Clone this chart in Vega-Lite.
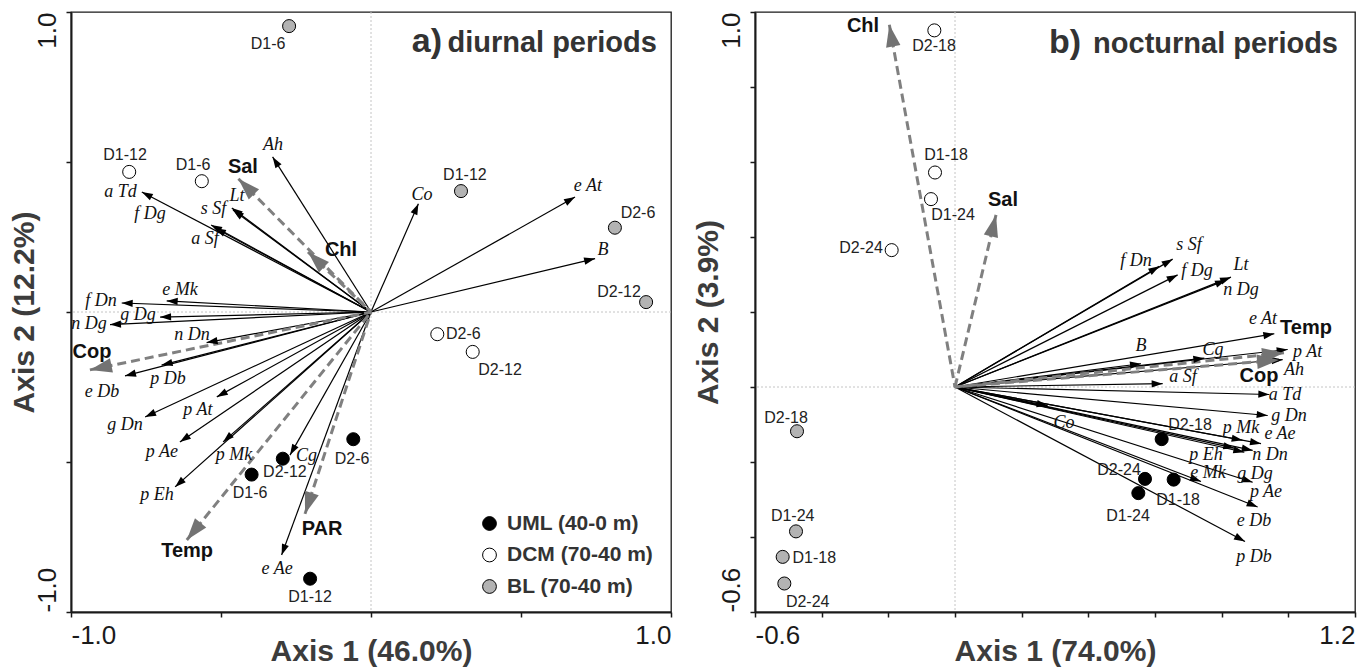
{
 "$schema": "https://vega.github.io/schema/vega-lite/v6.json",
 "background": "white",
 "padding": {"left": 8, "top": 10, "right": 2, "bottom": 2},
 "spacing": 84,
 "bounds": "flush",
 "resolve": {"legend": {"fill": "independent"}},
 "config": {
  "view": {"stroke": "#1a1a1a", "strokeWidth": 1.3},
  "axis": {"grid": false, "domainColor": "#1a1a1a", "domainWidth": 2, "tickColor": "#1a1a1a", "tickWidth": 1.5, "tickSize": 5, "labelFont": "Liberation Sans", "labelFontSize": 26, "labelColor": "#1a1a1a", "titleFont": "Liberation Sans", "titleFontSize": 30, "titleFontWeight": "bold", "titleColor": "#3c3c3c", "labelOverlap": false},
  "text": {"font": "Liberation Sans"}
 },
 "datasets": {
  "arrowsA": [
   {"name": "Ah", "kind": "species", "x": -0.328, "y": 0.517, "lx": -0.327, "ly": 0.557},
   {"name": "Sal", "kind": "env", "x": -0.442, "y": 0.444, "lx": -0.427, "ly": 0.485},
   {"name": "Chl", "kind": "env", "x": -0.21, "y": 0.2, "lx": -0.1, "ly": 0.207},
   {"name": "Lt", "kind": "species", "x": -0.464, "y": 0.347, "lx": -0.447, "ly": 0.387},
   {"name": "s Sf", "kind": "species", "x": -0.46, "y": 0.34, "lx": -0.525, "ly": 0.343},
   {"name": "a Td", "kind": "species", "x": -0.764, "y": 0.4, "lx": -0.835, "ly": 0.4},
   {"name": "f Dg", "kind": "species", "x": -0.533, "y": 0.29, "lx": -0.737, "ly": 0.327},
   {"name": "a Sf", "kind": "species", "x": -0.52, "y": 0.28, "lx": -0.553, "ly": 0.243},
   {"name": "e Mk", "kind": "species", "x": -0.681, "y": 0.037, "lx": -0.637, "ly": 0.073},
   {"name": "f Dn", "kind": "species", "x": -0.831, "y": 0.03, "lx": -0.9, "ly": 0.037},
   {"name": "g Dg", "kind": "species", "x": -0.703, "y": -0.017, "lx": -0.777, "ly": -0.01},
   {"name": "n Dg", "kind": "species", "x": -0.87, "y": -0.042, "lx": -0.94, "ly": -0.04},
   {"name": "n Dn", "kind": "species", "x": -0.548, "y": -0.102, "lx": -0.597, "ly": -0.077},
   {"name": "Cop", "kind": "env", "x": -0.937, "y": -0.193, "lx": -0.93, "ly": -0.133},
   {"name": "p Db", "kind": "species", "x": -0.698, "y": -0.177, "lx": -0.677, "ly": -0.222},
   {"name": "e Db", "kind": "species", "x": -0.82, "y": -0.213, "lx": -0.897, "ly": -0.267},
   {"name": "p At", "kind": "species", "x": -0.514, "y": -0.283, "lx": -0.577, "ly": -0.325},
   {"name": "g Dn", "kind": "species", "x": -0.753, "y": -0.35, "lx": -0.82, "ly": -0.377},
   {"name": "p Ae", "kind": "species", "x": -0.637, "y": -0.433, "lx": -0.697, "ly": -0.467},
   {"name": "p Mk", "kind": "species", "x": -0.493, "y": -0.433, "lx": -0.457, "ly": -0.475},
   {"name": "p Eh", "kind": "species", "x": -0.653, "y": -0.583, "lx": -0.713, "ly": -0.61},
   {"name": "Temp", "kind": "env", "x": -0.614, "y": -0.76, "lx": -0.613, "ly": -0.795},
   {"name": "Cg", "kind": "species", "x": -0.27, "y": -0.477, "lx": -0.215, "ly": -0.48},
   {"name": "PAR", "kind": "env", "x": -0.22, "y": -0.673, "lx": -0.163, "ly": -0.723},
   {"name": "e Ae", "kind": "species", "x": -0.298, "y": -0.81, "lx": -0.313, "ly": -0.857},
   {"name": "Co", "kind": "species", "x": 0.158, "y": 0.361, "lx": 0.17, "ly": 0.39},
   {"name": "e At", "kind": "species", "x": 0.68, "y": 0.383, "lx": 0.723, "ly": 0.42},
   {"name": "B", "kind": "species", "x": 0.747, "y": 0.178, "lx": 0.773, "ly": 0.207}
  ],
  "sitesA": [
   {"label": "D1-6", "zone": "BL (70-40 m)", "x": -0.273, "y": 0.953, "lx": -0.343, "ly": 0.893},
   {"label": "D1-12", "zone": "BL (70-40 m)", "x": 0.3, "y": 0.403, "lx": 0.313, "ly": 0.457},
   {"label": "D2-6", "zone": "BL (70-40 m)", "x": 0.813, "y": 0.281, "lx": 0.89, "ly": 0.33},
   {"label": "D2-12", "zone": "BL (70-40 m)", "x": 0.917, "y": 0.033, "lx": 0.827, "ly": 0.067},
   {"label": "D2-6", "zone": "DCM (70-40 m)", "x": 0.221, "y": -0.074, "lx": 0.308, "ly": -0.072},
   {"label": "D2-12", "zone": "DCM (70-40 m)", "x": 0.339, "y": -0.133, "lx": 0.43, "ly": -0.193},
   {"label": "D1-12", "zone": "DCM (70-40 m)", "x": -0.806, "y": 0.467, "lx": -0.82, "ly": 0.523},
   {"label": "D1-6", "zone": "DCM (70-40 m)", "x": -0.564, "y": 0.436, "lx": -0.593, "ly": 0.49},
   {"label": "D2-6", "zone": "UML (40-0 m)", "x": -0.059, "y": -0.424, "lx": -0.063, "ly": -0.49},
   {"label": "D2-12", "zone": "UML (40-0 m)", "x": -0.294, "y": -0.489, "lx": -0.287, "ly": -0.533},
   {"label": "D1-6", "zone": "UML (40-0 m)", "x": -0.398, "y": -0.542, "lx": -0.403, "ly": -0.603},
   {"label": "D1-12", "zone": "UML (40-0 m)", "x": -0.203, "y": -0.889, "lx": -0.203, "ly": -0.95}
  ],
  "arrowsB": [
   {"name": "Chl", "kind": "env", "x": -0.197, "y": 0.966, "lx": -0.276, "ly": 0.963},
   {"name": "Sal", "kind": "env", "x": 0.123, "y": 0.459, "lx": 0.144, "ly": 0.498},
   {"name": "Temp", "kind": "env", "x": 0.987, "y": 0.091, "lx": 1.053, "ly": 0.157},
   {"name": "Cop", "kind": "env", "x": 0.972, "y": 0.072, "lx": 0.912, "ly": 0.029},
   {"name": "f Dn", "kind": "species", "x": 0.613, "y": 0.322, "lx": 0.543, "ly": 0.336},
   {"name": "s Sf", "kind": "species", "x": 0.653, "y": 0.341, "lx": 0.702, "ly": 0.379},
   {"name": "f Dg", "kind": "species", "x": 0.668, "y": 0.299, "lx": 0.726, "ly": 0.309},
   {"name": "Lt", "kind": "species", "x": 0.828, "y": 0.293, "lx": 0.858, "ly": 0.325},
   {"name": "n Dg", "kind": "species", "x": 0.813, "y": 0.285, "lx": 0.858, "ly": 0.259},
   {"name": "e At", "kind": "species", "x": 0.958, "y": 0.142, "lx": 0.924, "ly": 0.181},
   {"name": "B", "kind": "species", "x": 0.558, "y": 0.062, "lx": 0.558, "ly": 0.109},
   {"name": "Cg", "kind": "species", "x": 0.748, "y": 0.077, "lx": 0.774, "ly": 0.099},
   {"name": "p At", "kind": "species", "x": 0.998, "y": 0.1, "lx": 1.058, "ly": 0.094},
   {"name": "Ah", "kind": "species", "x": 0.983, "y": 0.073, "lx": 1.017, "ly": 0.046},
   {"name": "a Sf", "kind": "species", "x": 0.623, "y": 0.009, "lx": 0.684, "ly": 0.027},
   {"name": "a Td", "kind": "species", "x": 0.943, "y": -0.02, "lx": 0.99, "ly": -0.021},
   {"name": "g Dn", "kind": "species", "x": 0.938, "y": -0.076, "lx": 1.002, "ly": -0.077},
   {"name": "Co", "kind": "species", "x": 0.278, "y": -0.05, "lx": 0.327, "ly": -0.096},
   {"name": "p Mk", "kind": "species", "x": 0.863, "y": -0.142, "lx": 0.858, "ly": -0.109},
   {"name": "e Ae", "kind": "species", "x": 0.918, "y": -0.151, "lx": 0.975, "ly": -0.125},
   {"name": "n Dn", "kind": "species", "x": 0.893, "y": -0.169, "lx": 0.945, "ly": -0.181},
   {"name": "p Eh", "kind": "species", "x": 0.838, "y": -0.163, "lx": 0.753, "ly": -0.181},
   {"name": "g Dg", "kind": "species", "x": 0.868, "y": -0.174, "lx": 0.9, "ly": -0.233},
   {"name": "e Mk", "kind": "species", "x": 0.738, "y": -0.252, "lx": 0.759, "ly": -0.229},
   {"name": "p Ae", "kind": "species", "x": 0.893, "y": -0.254, "lx": 0.933, "ly": -0.28},
   {"name": "e Db", "kind": "species", "x": 0.908, "y": -0.32, "lx": 0.897, "ly": -0.357},
   {"name": "p Db", "kind": "species", "x": 0.87, "y": -0.412, "lx": 0.897, "ly": -0.453}
  ],
  "sitesB": [
   {"label": "D2-18", "zone": "DCM (70-40 m)", "x": -0.062, "y": 0.951, "lx": -0.063, "ly": 0.909},
   {"label": "D1-18", "zone": "DCM (70-40 m)", "x": -0.06, "y": 0.572, "lx": -0.027, "ly": 0.619},
   {"label": "D1-24", "zone": "DCM (70-40 m)", "x": -0.072, "y": 0.501, "lx": -0.006, "ly": 0.459},
   {"label": "D2-24", "zone": "DCM (70-40 m)", "x": -0.19, "y": 0.365, "lx": -0.282, "ly": 0.371},
   {"label": "D2-18", "zone": "BL (70-40 m)", "x": -0.474, "y": -0.118, "lx": -0.507, "ly": -0.083},
   {"label": "D1-24", "zone": "BL (70-40 m)", "x": -0.477, "y": -0.385, "lx": -0.487, "ly": -0.343},
   {"label": "D1-18", "zone": "BL (70-40 m)", "x": -0.517, "y": -0.453, "lx": -0.422, "ly": -0.456},
   {"label": "D2-24", "zone": "BL (70-40 m)", "x": -0.512, "y": -0.524, "lx": -0.442, "ly": -0.574},
   {"label": "D2-18", "zone": "UML (40-0 m)", "x": 0.62, "y": -0.139, "lx": 0.705, "ly": -0.101},
   {"label": "D2-24", "zone": "UML (40-0 m)", "x": 0.57, "y": -0.245, "lx": 0.492, "ly": -0.221},
   {"label": "D1-18", "zone": "UML (40-0 m)", "x": 0.656, "y": -0.247, "lx": 0.669, "ly": -0.301},
   {"label": "D1-24", "zone": "UML (40-0 m)", "x": 0.55, "y": -0.283, "lx": 0.519, "ly": -0.344}
  ]
 },
 "hconcat": [
  {
   "width": 600, "height": 600,
   "layer": [
    {"data": {"values": [{}]}, "mark": {"type": "rule", "stroke": "#c4c4c4", "strokeDash": [2, 2], "strokeWidth": 1},
     "encoding": {"x": {"datum": 0, "type": "quantitative", "scale": {"domain": [-1, 1], "nice": false, "zero": false},
       "axis": {"title": "Axis 1 (46.0%)", "values": [-1, -0.5, 0, 0.5, 1], "labelExpr": "datum.value == -1 ? '-1.0' : datum.value == 1 ? '1.0' : ''", "labelFlush": true, "labelPadding": 5, "titleY": 48, "titleBaseline": "alphabetic"}}}},
    {"data": {"values": [{}]}, "mark": {"type": "rule", "stroke": "#c4c4c4", "strokeDash": [2, 2], "strokeWidth": 1},
     "encoding": {"y": {"datum": 0, "type": "quantitative", "scale": {"domain": [-1, 1], "nice": false, "zero": false},
       "axis": {"title": "Axis 2 (12.2%)", "values": [-1, -0.5, 0, 0.5, 1], "labelExpr": "datum.value == -1 ? '-1.0' : datum.value == 1 ? '1.0' : ''", "labelAngle": -90, "labelAlign": {"condition": {"test": "datum.value > 0", "value": "right"}, "value": "left"}, "labelBaseline": "bottom", "labelPadding": 6, "titleX": -38, "titleBaseline": "alphabetic", "titleAngle": -90}}}},
    {"data": {"name": "arrowsA"}, "transform": [{"filter": "datum.kind == 'species'"}],
     "mark": {"type": "rule", "stroke": "#000000", "strokeWidth": 1.2},
     "encoding": {"x": {"field": "x", "type": "quantitative"}, "y": {"field": "y", "type": "quantitative"}, "x2": {"datum": 0}, "y2": {"datum": 0}}},
    {"data": {"name": "arrowsA"}, "transform": [{"filter": "datum.kind == 'env'"}],
     "mark": {"type": "rule", "stroke": "#808080", "strokeWidth": 3, "strokeDash": [9, 5]},
     "encoding": {"x": {"field": "x", "type": "quantitative"}, "y": {"field": "y", "type": "quantitative"}, "x2": {"datum": 0}, "y2": {"datum": 0}}},
    {"data": {"name": "arrowsA"}, "transform": [{"filter": "datum.kind == 'species'"}, {"calculate": "atan2(datum.x, datum.y) * 180 / PI", "as": "ang"}],
     "mark": {"type": "point", "shape": "M0,0L-0.33,1L0.33,1Z", "filled": true, "fill": "#000000", "size": 484, "opacity": 1, "strokeWidth": 0},
     "encoding": {"x": {"field": "x", "type": "quantitative"}, "y": {"field": "y", "type": "quantitative"}, "angle": {"field": "ang", "type": "quantitative", "scale": null}}},
    {"data": {"name": "arrowsA"}, "transform": [{"filter": "datum.kind == 'env'"}, {"calculate": "atan2(datum.x, datum.y) * 180 / PI", "as": "ang"}],
     "mark": {"type": "point", "shape": "M0,0L-0.33,1L0.33,1Z", "filled": true, "fill": "#737373", "size": 1936, "opacity": 1, "strokeWidth": 0},
     "encoding": {"x": {"field": "x", "type": "quantitative"}, "y": {"field": "y", "type": "quantitative"}, "angle": {"field": "ang", "type": "quantitative", "scale": null}}},
    {"data": {"name": "sitesA"},
     "mark": {"type": "point", "shape": "circle", "filled": true, "stroke": "#000000", "strokeWidth": 1, "size": 170, "opacity": 1},
     "encoding": {"x": {"field": "x", "type": "quantitative"}, "y": {"field": "y", "type": "quantitative"},
      "fill": {"field": "zone", "type": "nominal", "scale": {"domain": ["UML (40-0 m)", "DCM (70-40 m)", "BL (70-40 m)"], "range": ["#000000", "#ffffff", "#b3b3b3"]},
       "legend": {"orient": "none", "legendX": 408, "legendY": 501, "title": null, "labelFont": "Liberation Sans", "labelFontWeight": "bold", "labelFontSize": 21, "labelColor": "#333333", "symbolType": "circle", "symbolSize": 190, "symbolStrokeColor": "#000000", "symbolStrokeWidth": 1, "symbolOpacity": 1, "rowPadding": 9.5, "labelOffset": 7, "padding": 0}}}},
    {"data": {"name": "arrowsA"}, "transform": [{"filter": "datum.kind == 'species'"}],
     "mark": {"type": "text", "font": "Liberation Serif", "fontStyle": "italic", "fontSize": 18, "color": "#111111", "align": "center", "baseline": "middle"},
     "encoding": {"x": {"field": "lx", "type": "quantitative"}, "y": {"field": "ly", "type": "quantitative"}, "text": {"field": "name"}}},
    {"data": {"name": "arrowsA"}, "transform": [{"filter": "datum.kind == 'env'"}],
     "mark": {"type": "text", "font": "Liberation Sans", "fontWeight": "bold", "fontSize": 20, "color": "#111111", "align": "center", "baseline": "middle"},
     "encoding": {"x": {"field": "lx", "type": "quantitative"}, "y": {"field": "ly", "type": "quantitative"}, "text": {"field": "name"}}},
    {"data": {"name": "sitesA"},
     "mark": {"type": "text", "font": "Liberation Sans", "fontSize": 16, "color": "#222222", "align": "center", "baseline": "middle"},
     "encoding": {"x": {"field": "lx", "type": "quantitative"}, "y": {"field": "ly", "type": "quantitative"}, "text": {"field": "label"}}},
    {"data": {"values": [{"t": "diurnal periods", "x": 0.953, "y": 0.867}]},
     "mark": {"type": "text", "font": "Liberation Sans", "fontWeight": "bold", "fontSize": 29, "color": "#333333", "align": "right", "baseline": "alphabetic"},
     "encoding": {"x": {"field": "x", "type": "quantitative"}, "y": {"field": "y", "type": "quantitative"}, "text": {"field": "t"}}},
    {"data": {"values": [{"t": "a)", "x": 0.237, "y": 0.867}]},
     "mark": {"type": "text", "font": "Liberation Sans", "fontWeight": "bold", "fontSize": 34, "color": "#333333", "align": "right", "baseline": "alphabetic"},
     "encoding": {"x": {"field": "x", "type": "quantitative"}, "y": {"field": "y", "type": "quantitative"}, "text": {"field": "t"}}}
   ]
  },
  {
   "width": 600, "height": 600,
   "layer": [
    {"data": {"values": [{}]}, "mark": {"type": "rule", "stroke": "#c4c4c4", "strokeDash": [2, 2], "strokeWidth": 1},
     "encoding": {"x": {"datum": 0, "type": "quantitative", "scale": {"domain": [-0.6, 1.2], "nice": false, "zero": false},
       "axis": {"title": "Axis 1 (74.0%)", "values": [-0.6, -0.4, -0.2, 0, 0.2, 0.4, 0.6, 0.8, 1, 1.2], "labelExpr": "datum.value < -0.59 ? '-0.6' : datum.value > 1.19 ? '1.2' : ''", "labelFlush": true, "labelPadding": 5, "titleY": 48, "titleBaseline": "alphabetic"}}}},
    {"data": {"values": [{}]}, "mark": {"type": "rule", "stroke": "#c4c4c4", "strokeDash": [2, 2], "strokeWidth": 1},
     "encoding": {"y": {"datum": 0, "type": "quantitative", "scale": {"domain": [-0.6, 1.0], "nice": false, "zero": false},
       "axis": {"title": "Axis 2 (3.9%)", "values": [-0.6, -0.4, -0.2, 0, 0.2, 0.4, 0.6, 0.8, 1], "labelExpr": "datum.value < -0.59 ? '-0.6' : datum.value > 0.99 ? '1.0' : ''", "labelAngle": -90, "labelAlign": {"condition": {"test": "datum.value > 0", "value": "right"}, "value": "left"}, "labelBaseline": "bottom", "labelPadding": 6, "titleX": -38, "titleBaseline": "alphabetic", "titleAngle": -90}}}},
    {"data": {"name": "arrowsB"}, "transform": [{"filter": "datum.kind == 'species'"}],
     "mark": {"type": "rule", "stroke": "#000000", "strokeWidth": 1.2},
     "encoding": {"x": {"field": "x", "type": "quantitative"}, "y": {"field": "y", "type": "quantitative"}, "x2": {"datum": 0}, "y2": {"datum": 0}}},
    {"data": {"name": "arrowsB"}, "transform": [{"filter": "datum.kind == 'env'"}],
     "mark": {"type": "rule", "stroke": "#808080", "strokeWidth": 3, "strokeDash": [9, 5]},
     "encoding": {"x": {"field": "x", "type": "quantitative"}, "y": {"field": "y", "type": "quantitative"}, "x2": {"datum": 0}, "y2": {"datum": 0}}},
    {"data": {"name": "arrowsB"}, "transform": [{"filter": "datum.kind == 'species'"}, {"calculate": "atan2(datum.x / 1.8, datum.y / 1.6) * 180 / PI", "as": "ang"}],
     "mark": {"type": "point", "shape": "M0,0L-0.33,1L0.33,1Z", "filled": true, "fill": "#000000", "size": 484, "opacity": 1, "strokeWidth": 0},
     "encoding": {"x": {"field": "x", "type": "quantitative"}, "y": {"field": "y", "type": "quantitative"}, "angle": {"field": "ang", "type": "quantitative", "scale": null}}},
    {"data": {"name": "arrowsB"}, "transform": [{"filter": "datum.kind == 'env'"}, {"calculate": "atan2(datum.x / 1.8, datum.y / 1.6) * 180 / PI", "as": "ang"}],
     "mark": {"type": "point", "shape": "M0,0L-0.33,1L0.33,1Z", "filled": true, "fill": "#737373", "size": 1936, "opacity": 1, "strokeWidth": 0},
     "encoding": {"x": {"field": "x", "type": "quantitative"}, "y": {"field": "y", "type": "quantitative"}, "angle": {"field": "ang", "type": "quantitative", "scale": null}}},
    {"data": {"name": "sitesB"},
     "mark": {"type": "point", "shape": "circle", "filled": true, "stroke": "#000000", "strokeWidth": 1, "size": 170, "opacity": 1},
     "encoding": {"x": {"field": "x", "type": "quantitative"}, "y": {"field": "y", "type": "quantitative"},
      "fill": {"field": "zone", "type": "nominal", "scale": {"domain": ["UML (40-0 m)", "DCM (70-40 m)", "BL (70-40 m)"], "range": ["#000000", "#ffffff", "#b3b3b3"]}, "legend": null}}},
    {"data": {"name": "arrowsB"}, "transform": [{"filter": "datum.kind == 'species'"}],
     "mark": {"type": "text", "font": "Liberation Serif", "fontStyle": "italic", "fontSize": 18, "color": "#111111", "align": "center", "baseline": "middle"},
     "encoding": {"x": {"field": "lx", "type": "quantitative"}, "y": {"field": "ly", "type": "quantitative"}, "text": {"field": "name"}}},
    {"data": {"name": "arrowsB"}, "transform": [{"filter": "datum.kind == 'env'"}],
     "mark": {"type": "text", "font": "Liberation Sans", "fontWeight": "bold", "fontSize": 20, "color": "#111111", "align": "center", "baseline": "middle"},
     "encoding": {"x": {"field": "lx", "type": "quantitative"}, "y": {"field": "ly", "type": "quantitative"}, "text": {"field": "name"}}},
    {"data": {"name": "sitesB"},
     "mark": {"type": "text", "font": "Liberation Sans", "fontSize": 16, "color": "#222222", "align": "center", "baseline": "middle"},
     "encoding": {"x": {"field": "lx", "type": "quantitative"}, "y": {"field": "ly", "type": "quantitative"}, "text": {"field": "label"}}},
    {"data": {"values": [{"t": "nocturnal periods", "x": 1.149, "y": 0.891}]},
     "mark": {"type": "text", "font": "Liberation Sans", "fontWeight": "bold", "fontSize": 29, "color": "#333333", "align": "right", "baseline": "alphabetic"},
     "encoding": {"x": {"field": "x", "type": "quantitative"}, "y": {"field": "y", "type": "quantitative"}, "text": {"field": "t"}}},
    {"data": {"values": [{"t": "b)", "x": 0.378, "y": 0.891}]},
     "mark": {"type": "text", "font": "Liberation Sans", "fontWeight": "bold", "fontSize": 34, "color": "#333333", "align": "right", "baseline": "alphabetic"},
     "encoding": {"x": {"field": "x", "type": "quantitative"}, "y": {"field": "y", "type": "quantitative"}, "text": {"field": "t"}}}
   ]
  }
 ]
}
